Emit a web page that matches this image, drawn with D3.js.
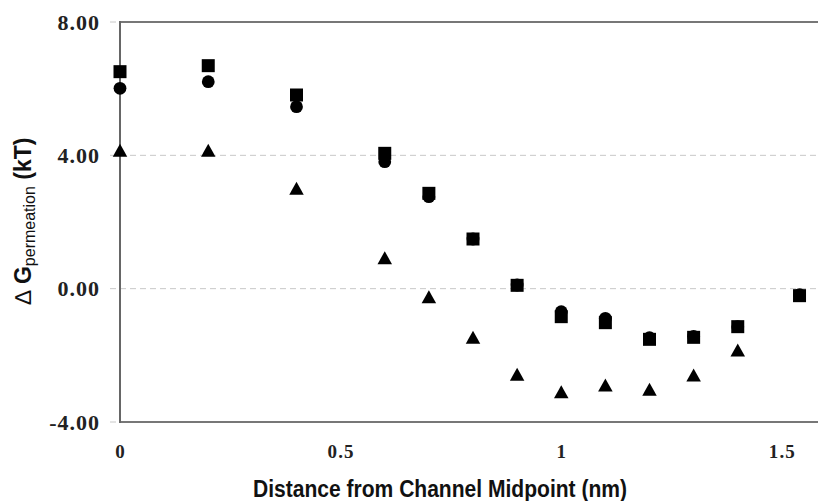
<!DOCTYPE html>
<html>
<head>
<meta charset="utf-8">
<script src="https://cdn.jsdelivr.net/npm/d3@7"></script>
<style>
  html, body { margin: 0; padding: 0; background: #fff; }
  svg { display: block; }
</style>
</head>
<body>
<svg id="chart" width="818" height="501"></svg>
<script>
// ---- data ----
const xValues = [0, 0.2, 0.4, 0.6, 0.7, 0.8, 0.9, 1.0, 1.1, 1.2, 1.3, 1.4, 1.54];
const squareValues = [6.51, 6.69, 5.81, 4.06, 2.86, 1.49, 0.10, -0.84, -1.02, -1.52, -1.46, -1.14, -0.21];
const circleValues = [6.01, 6.21, 5.46, 3.81, 2.76, 1.49, 0.11, -0.69, -0.89, -1.47, -1.43, -1.14, -0.18];
const triangleX = [0, 0.2, 0.4, 0.6, 0.7, 0.8, 0.9, 1.0, 1.1, 1.2, 1.3, 1.4];
const triangleValues = [4.15, 4.15, 3.01, 0.93, -0.24, -1.46, -2.57, -3.09, -2.89, -3.02, -2.59, -1.84];
const yTicks = [-4, 0, 4, 8];
const xTicks = [0, 0.5, 1, 1.5];
const xTitle = "Distance from Channel Midpoint (nm)";

// ---- layout ----
const svg = d3.select("#chart");
const mLeft = 120, mRight = 826, mTop = 22, mBottom = 422;
const x = d3.scaleLinear().domain([0, 1.6]).range([mLeft, mRight]);
const y = d3.scaleLinear().domain([-4, 8]).range([mBottom, mTop]);

// gridlines (dashed)
svg.append("g").selectAll("line")
  .data(yTicks)
  .join("line")
  .attr("x1", mLeft - 10).attr("x2", 818)
  .attr("y1", d => y(d)).attr("y2", d => y(d))
  .attr("stroke", "#c8c8c8")
  .attr("stroke-width", 1)
  .attr("stroke-dasharray", "6,4");

// frame lines
svg.append("line").attr("x1", mLeft).attr("x2", 818).attr("y1", mTop).attr("y2", mTop)
  .attr("stroke", "#777").attr("stroke-width", 2);
svg.append("line").attr("x1", mLeft).attr("x2", 818).attr("y1", mBottom).attr("y2", mBottom)
  .attr("stroke", "#777").attr("stroke-width", 2);
svg.append("line").attr("x1", mLeft).attr("x2", mLeft).attr("y1", mTop - 1).attr("y2", mBottom + 1)
  .attr("stroke", "#666").attr("stroke-width", 2);

// y axis labels
const fmtY = d => d3.format(".2f")(d).replace("\u2212", "-");
const yAxis = svg.append("g").attr("transform", `translate(${mLeft},0)`)
  .call(d3.axisLeft(y).tickValues(yTicks).tickFormat(fmtY).tickSize(0).tickPadding(20));
yAxis.select(".domain").remove();
yAxis.selectAll("text")
  .attr("font-family", "'Liberation Serif', 'Times New Roman', serif")
  .attr("font-weight", "bold")
  .attr("font-size", 22)
  .attr("letter-spacing", "1px")
  .attr("fill", "#222");

// x axis labels
const xAxis = svg.append("g").attr("transform", `translate(0,${mBottom})`)
  .call(d3.axisBottom(x).tickValues(xTicks).tickFormat(d3.format("")).tickSize(0).tickPadding(0));
xAxis.select(".domain").remove();
xAxis.selectAll("text")
  .attr("y", 36).attr("dy", null)
  .attr("font-family", "'Liberation Serif', 'Times New Roman', serif")
  .attr("font-weight", "bold")
  .attr("font-size", 19)
  .attr("letter-spacing", "1.2px")
  .attr("fill", "#222");

// markers
const g = svg.append("g");
g.selectAll("circle.c")
  .data(xValues.map((d, i) => [d, circleValues[i]]))
  .join("circle")
  .attr("class", "c")
  .attr("cx", d => x(d[0])).attr("cy", d => y(d[1]))
  .attr("r", 6.4).attr("fill", "#000");

const sq = 13;
g.selectAll("rect.s")
  .data(xValues.map((d, i) => [d, squareValues[i]]))
  .join("rect")
  .attr("class", "s")
  .attr("x", d => x(d[0]) - sq / 2).attr("y", d => y(d[1]) - sq / 2)
  .attr("width", sq).attr("height", sq).attr("fill", "#000");

const tw = 14.5, th = 13;
g.selectAll("path.t")
  .data(triangleX.map((d, i) => [d, triangleValues[i]]))
  .join("path")
  .attr("class", "t")
  .attr("d", d => {
    const cx = x(d[0]), cy = y(d[1]);
    return `M${cx},${cy - th / 2}L${cx + tw / 2},${cy + th / 2}L${cx - tw / 2},${cy + th / 2}Z`;
  })
  .attr("fill", "#000");

// x title
svg.append("text")
  .attr("x", 253).attr("y", 497)
  .attr("textLength", 374).attr("lengthAdjust", "spacingAndGlyphs")
  .attr("font-family", "'Liberation Sans', Arial, sans-serif")
  .attr("font-weight", "bold")
  .attr("font-size", 23)
  .attr("fill", "#111")
  .text(xTitle);

// y title
const yt = svg.append("text")
  .attr("transform", "translate(31,221) rotate(-90)")
  .attr("text-anchor", "middle")
  .attr("font-family", "'Liberation Sans', Arial, sans-serif")
  .attr("font-weight", "bold")
  .attr("font-size", 23)
  .attr("fill", "#111");
yt.append("tspan").attr("font-weight", "normal").text("\u2206 ");
yt.append("tspan").text("G");
yt.append("tspan").attr("font-size", 16).attr("font-weight", "normal").attr("dy", 4).text("permeation");
yt.append("tspan").attr("dy", -4).text(" (kT)");
</script>
</body>
</html>
